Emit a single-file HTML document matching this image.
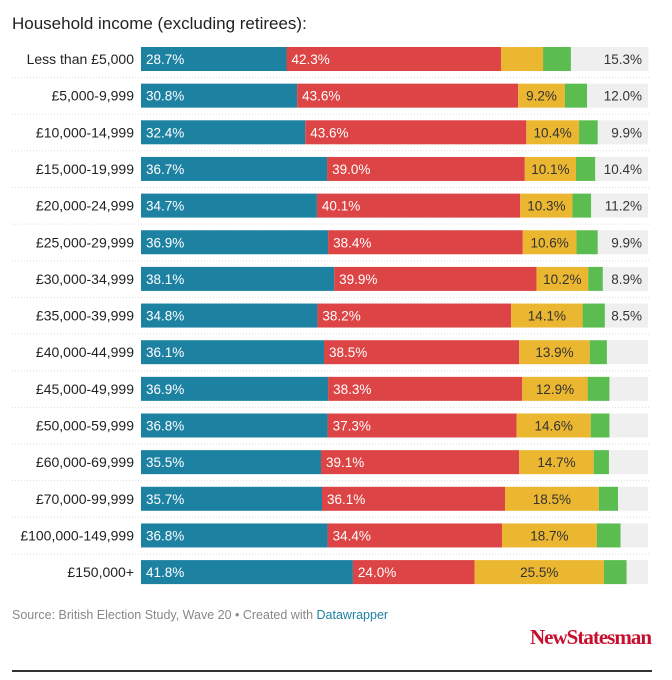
<!DOCTYPE html>
<html><head><meta charset="utf-8">
<style>
body{margin:0;width:672px;height:680px;background:#fff;font-family:"Liberation Sans",sans-serif;position:relative;overflow:hidden}
#title{position:absolute;left:12px;top:14px;font-size:17px;color:#222}
#chart{position:absolute;left:0;top:0}
#source{position:absolute;left:12px;top:608px;font-size:12.5px;color:#888}
#source span{color:#1d81a2}
#logo{position:absolute;right:21px;top:625px;font-family:"Liberation Serif",serif;font-weight:bold;font-size:21px;color:#c8102e;letter-spacing:-1px}
#rule{position:absolute;left:12px;top:670px;width:640px;height:2px;background:#333}
</style></head><body>
<div id="title">Household income (excluding retirees):</div>
<svg id="chart" width="672" height="600"></svg>
<div id="source">Source: British Election Study, Wave 20 • Created with <span>Datawrapper</span></div>
<div id="logo">NewStatesman</div>
<div id="rule"></div>
<script>
const categories=["Less than £5,000","£5,000-9,999","£10,000-14,999","£15,000-19,999","£20,000-24,999","£25,000-29,999","£30,000-34,999","£35,000-39,999","£40,000-44,999","£45,000-49,999","£50,000-59,999","£60,000-69,999","£70,000-99,999","£100,000-149,999","£150,000+"];
const blue=[28.7,30.8,32.4,36.7,34.7,36.9,38.1,34.8,36.1,36.9,36.8,35.5,35.7,36.8,41.8];
const red=[42.3,43.6,43.6,39.0,40.1,38.4,39.9,38.2,38.5,38.3,37.3,39.1,36.1,34.4,24.0];
const yellow=[8.3,9.2,10.4,10.1,10.3,10.6,10.2,14.1,13.9,12.9,14.6,14.7,18.5,18.7,25.5];
const green=[5.5,4.4,3.7,3.8,3.7,4.2,2.9,4.4,3.4,4.3,3.7,3.0,3.8,4.7,4.5];
const grey=[15.3,12.0,9.9,10.4,11.2,9.9,8.9,8.5,8.1,7.6,7.6,7.7,5.9,5.4,4.2];
const showLabel=[[1,1,0,0,1],[1,1,1,0,1],[1,1,1,0,1],[1,1,1,0,1],[1,1,1,0,1],[1,1,1,0,1],[1,1,1,0,1],[1,1,1,0,1],[1,1,1,0,0],[1,1,1,0,0],[1,1,1,0,0],[1,1,1,0,0],[1,1,1,0,0],[1,1,1,0,0],[1,1,1,0,0]];
const svg=document.getElementById('chart');
const NS='http://www.w3.org/2000/svg';
const x0=141,W=507,y0=47,pitch=36.65,bh=24;
const x=v=>v/100*W;
const y=i=>y0+i*pitch;
const series=[blue,red,yellow,green,grey];
const names=['blue-segment','red-segment','yellow-segment','green-segment','grey-segment'];
const colors=['#1d81a2','#dc4445','#ebb630','#5bbd4f','#efefef'];
const textCol=['#fff','#fff','#333','#333','#333'];
function mk(tag,attrs){const e=document.createElementNS(NS,tag);for(const k in attrs)e.setAttribute(k,attrs[k]);svg.appendChild(e);return e;}
categories.forEach((c,i)=>{
  const t=mk('text',{x:134,y:y(i)+bh/2+5,'text-anchor':'end','font-size':14,fill:'#222'});
  
  
  t.textContent=c;
  if(i<categories.length-1){
    const l=mk('line',{x1:12,x2:651,y1:y(i)+bh+6.5,y2:y(i)+bh+6.5,stroke:'#ddd','stroke-dasharray':'1,2'});
    
    
  }
  let acc=0;
  series.forEach((s,k)=>{
    const v=s[i];
    const r=mk('rect',{x:x0+x(acc),y:y(i),width:x(v),height:bh,fill:colors[k]});
    
    
    if(showLabel[i][k]){
      const isGrey=k===4,isYellow=k===2;
      const tx=isGrey?x0+W-6:isYellow?x0+x(acc+v/2):x0+x(acc)+5;
      const lt=mk('text',{x:tx,y:y(i)+bh/2+5,'text-anchor':isGrey?'end':isYellow?'middle':'start','font-size':13.5,fill:textCol[k]});
      
      
      lt.textContent=v.toFixed(1)+'%';
    }
    acc+=v;
  });
});
</script>
</body></html>
